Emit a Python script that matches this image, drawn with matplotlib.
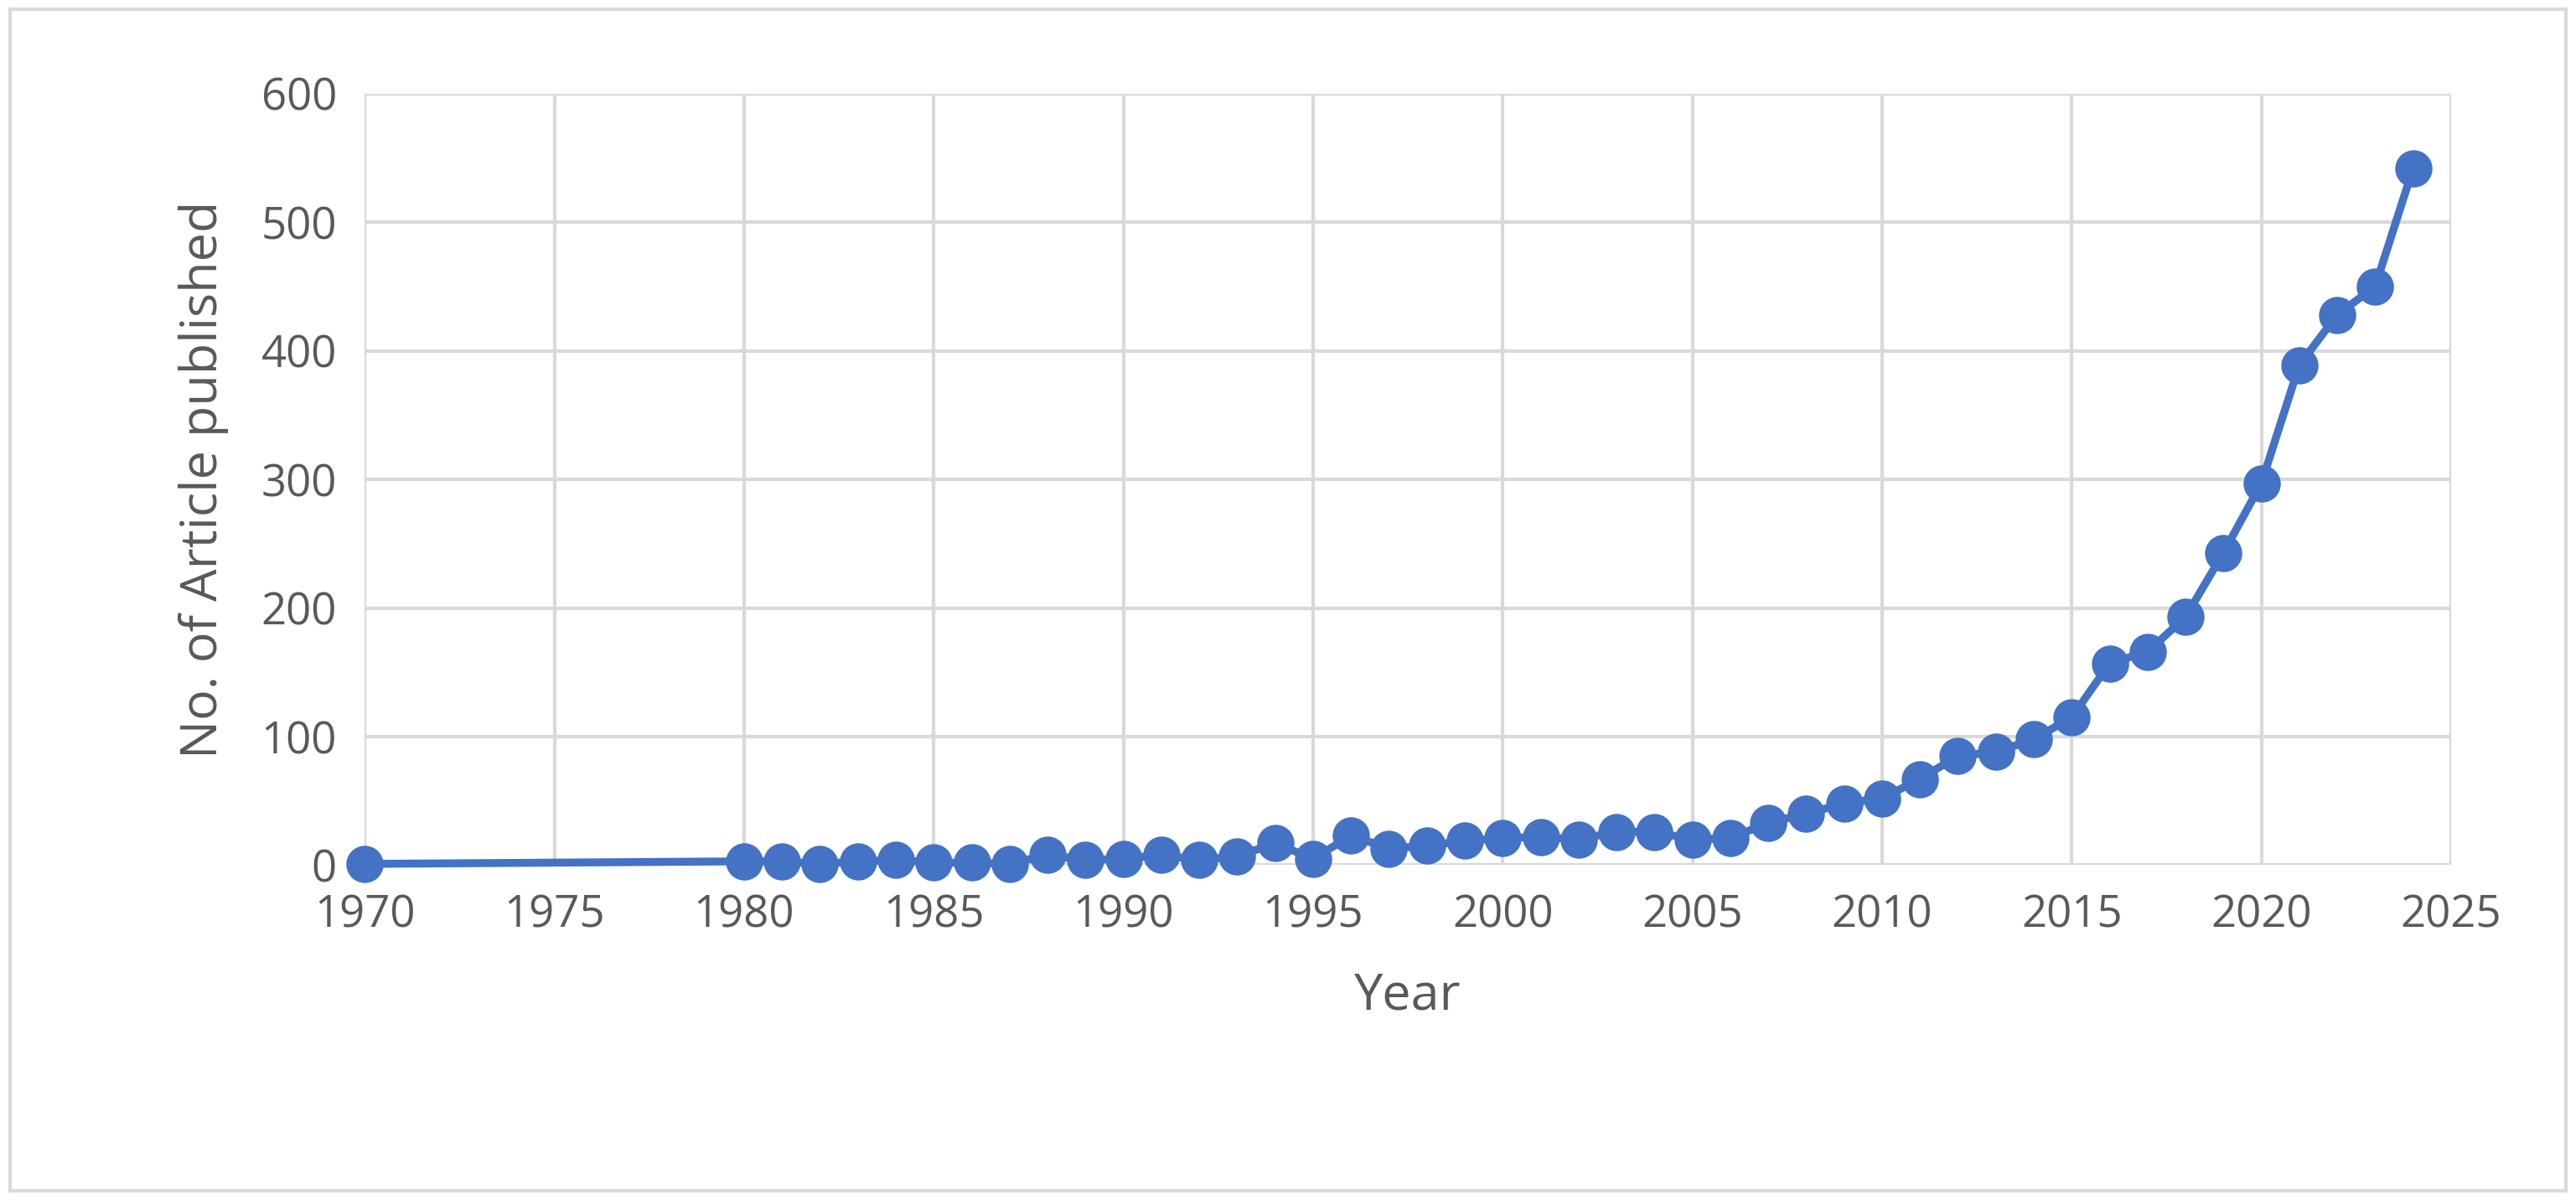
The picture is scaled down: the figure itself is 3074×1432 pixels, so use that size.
import matplotlib
matplotlib.use("Agg")
import matplotlib.pyplot as plt
from matplotlib.patches import Rectangle

years = [1970, 1980, 1981, 1982, 1983, 1984, 1985, 1986, 1987, 1988, 1989, 1990, 1991, 1992, 1993,
         1994, 1995, 1996, 1997, 1998, 1999, 2000, 2001, 2002, 2003, 2004, 2005, 2006, 2007, 2008,
         2009, 2010, 2011, 2012, 2013, 2014, 2015, 2016, 2017, 2018, 2019, 2020, 2021, 2022, 2023, 2024]
articles = [1, 3, 3, 1, 3, 4, 2, 2, 1, 8, 4, 5, 8, 4, 7,
            17, 5, 23, 13, 15, 19, 21, 22, 20, 26, 26, 20, 21, 33, 40,
            48, 52, 67, 85, 88, 98, 115, 157, 166, 193, 243, 297, 389, 428, 450, 542]
xticks = list(range(1970, 2030, 5))
yticks = list(range(0, 700, 100))

plt.rcParams['font.family'] = ['Open Sans', 'DejaVu Sans']
fig = plt.figure(figsize=(15.37, 7.16), dpi=200)
fig.patches.append(Rectangle((0.004, 0.008), 0.992, 0.984, transform=fig.transFigure,
                             fill=False, edgecolor='#D9D9D9', linewidth=1.5))
ax = fig.add_axes([0.1416, 0.279, 0.8099, 0.643])
ax.plot(years, articles, color='#4472C4', linewidth=3.4, marker='o', markersize=15,
        zorder=3, clip_on=False)
ax.set_xlim(1970, 2025)
ax.set_ylim(0, 600)
ax.set_xticks(xticks)
ax.set_yticks(yticks)
ax.grid(True, color='#D9D9D9', linewidth=1.5)
ax.set_axisbelow(True)
for s in ax.spines.values():
    s.set_visible(False)
ax.tick_params(length=0, labelsize=19, labelcolor='#595959', pad=12)
ax.set_xlabel('Year', fontsize=22, color='#595959', labelpad=14)
ax.set_ylabel('No. of Article published', fontsize=22, color='#595959', labelpad=14)
fig.savefig('out.png', dpi=200)
